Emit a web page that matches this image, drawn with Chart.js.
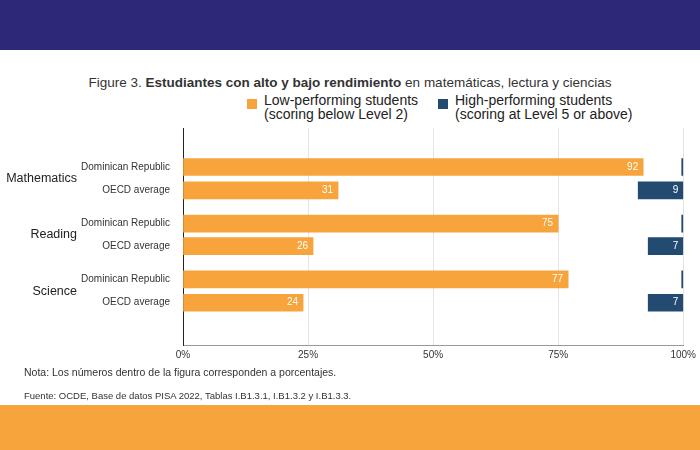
<!DOCTYPE html>
<html><head><meta charset="utf-8">
<script src="https://cdn.jsdelivr.net/npm/chart.js@4"></script>
<style>
body{margin:0;width:700px;height:450px;overflow:hidden;background:#fff;font-family:"Liberation Sans",Arial,sans-serif;position:relative}
#top{position:absolute;left:0;top:0;width:700px;height:50px;background:#2e2878}
#bot{position:absolute;left:0;top:405px;width:700px;height:45px;background:#f7a43c}
#title{position:absolute;top:75px;left:0;width:700px;text-align:center;font-size:13.5px;color:#333}
.leg{position:absolute;top:93px;font-size:14px;line-height:14px;color:#222}
.sw{position:absolute;left:-17px;top:6px;width:10px;height:10px}
.note{position:absolute;left:24px;font-size:10.5px;color:#333}
canvas{position:absolute;left:0;top:0}
</style></head><body>
<div id="top"></div>
<div id="title">Figure 3. <b>Estudiantes con alto y bajo rendimiento</b> en matemáticas, lectura y ciencias</div>
<div class="leg" style="left:264px"><span class="sw" style="background:#f7a43c"></span>Low-performing students<br>(scoring below Level 2)</div>
<div class="leg" style="left:455px"><span class="sw" style="background:#234b72"></span>High-performing students<br>(scoring at Level 5 or above)</div>
<canvas id="c" width="700" height="450"></canvas>
<div class="note" style="top:366px">Nota: Los números dentro de la figura corresponden a porcentajes.</div>
<div class="note" style="top:390px;font-size:9.5px">Fuente: OCDE, Base de datos PISA 2022, Tablas I.B1.3.1, I.B1.3.2 y I.B1.3.3.</div>
<div id="bot"></div>
<script>
const rowLabels = ["Dominican Republic","OECD average","Dominican Republic","OECD average","Dominican Republic","OECD average"];
const rowPos = [0, 1, 2.43, 3.4, 4.83, 5.83];
const groups = ["Mathematics","Reading","Science"];
const lowValues = [92, 31, 75, 26, 77, 24];
const highValues = [0.3, 9, 0.3, 7, 0.3, 7];
const highLabels = ["", "9", "", "7", "", "7"];
const xTicks = [0, 25, 50, 75, 100];

const valueLabels = {
  id: "valueLabels",
  afterDatasetsDraw(chart) {
    const ctx = chart.ctx;
    ctx.save();
    ctx.font = "10px 'Liberation Sans', Arial";
    ctx.fillStyle = "#fff";
    ctx.textAlign = "right";
    ctx.textBaseline = "middle";
    chart.getDatasetMeta(0).data.forEach((b, i) => ctx.fillText(String(lowValues[i]), b.x - 5, b.y));
    chart.getDatasetMeta(1).data.forEach((b, i) => ctx.fillText(highLabels[i], b.x - 5, b.y));
    ctx.fillStyle = "#222";
    ctx.font = "12.5px 'Liberation Sans', Arial";
    const ys = chart.scales.y;
    groups.forEach((g, i) => {
      const y = (ys.getPixelForValue(rowPos[2 * i]) + ys.getPixelForValue(rowPos[2 * i + 1])) / 2;
      ctx.fillText(g, 77, y);
    });
    ctx.restore();
  }
};

new Chart(document.getElementById("c"), {
  type: "bar",
  data: {
    datasets: [
      { label: "Low", data: lowValues.map((v, i) => ({ x: [0, v], y: rowPos[i] })), backgroundColor: "#f7a43c", barThickness: 17, grouped: false },
      { label: "High", data: highValues.map((v, i) => ({ x: [100 - v, 100], y: rowPos[i] })), backgroundColor: "#234b72", barThickness: 17, grouped: false }
    ]
  },
  options: {
    indexAxis: "y",
    responsive: false,
    animation: false,
    layout: { padding: { left: 0, top: 128, right: 14, bottom: 85 } },
    plugins: { legend: { display: false }, tooltip: { enabled: false } },
    scales: {
      x: {
        type: "linear", min: 0, max: 100,
        afterBuildTicks: (s) => { s.ticks = xTicks.map(v => ({ value: v })); },
        afterFit: (s) => { s.height = 20; },
        ticks: { callback: v => v + "%", color: "#333", font: { size: 10, family: "'Liberation Sans', Arial" }, padding: 4 },
        grid: { color: "#e4e4e4", drawTicks: false },
        border: { color: "#999" }
      },
      y: {
        type: "linear", reverse: true, min: -0.9, max: 6.87,
        afterBuildTicks: (s) => { s.ticks = rowPos.map(v => ({ value: v })); },
        afterFit: (s) => { s.width = 183; },
        ticks: { callback: (v) => rowLabels[rowPos.indexOf(v)] || "", color: "#333", font: { size: 10, family: "'Liberation Sans', Arial" }, padding: 5 },
        grid: { display: false },
        border: { color: "#222" }
      }
    }
  },
  plugins: [valueLabels]
});
</script>
</body></html>
